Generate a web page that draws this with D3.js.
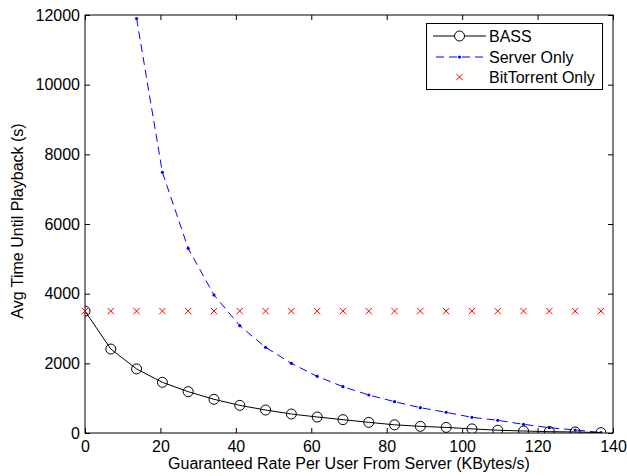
<!DOCTYPE html>
<html lang="en">
<meta charset="utf-8">
<head>
    <script src="https://d3js.org/d3.v7.min.js"></script>
    <style>
        body { margin: 0; background: #fff; }
        text { font-family: "Liberation Sans", Arial, sans-serif; }
    </style>
</head>
<body>
</body>

<script>
var width = 627, height = 476;

// rate per user (KBytes/s)
var rates = [0, 6.84, 13.68, 20.52, 27.36, 34.2, 41.04, 47.88, 54.72, 61.56, 68.4,
             75.24, 82.08, 88.92, 95.76, 102.6, 109.44, 116.28, 123.12, 129.96, 136.8];
var bass = [3500, 2410, 1840, 1455, 1187, 967, 794, 660, 545, 459, 383,
            306, 235, 191, 160, 118, 80, 57, 38, 30, 10];
var serverRates = rates.slice(2);
var serverOnly = [11900, 7485, 5300, 3962, 3080, 2460, 2000, 1627, 1330,
                  1091, 900, 727, 593, 450, 364, 249, 153, 86, 15];
var bittorrent = [3500, 3500, 3500, 3500, 3500, 3500, 3500, 3500, 3500, 3500, 3500,
                  3500, 3500, 3500, 3500, 3500, 3500, 3500, 3500, 3500, 3500];
var xTicks = [0, 20, 40, 60, 80, 100, 120, 140];
var yTicks = [0, 2000, 4000, 6000, 8000, 10000, 12000];

var m = {left: 85, top: 15, right: 14, bottom: 43};
var x = d3.scaleLinear().domain([0, 140]).range([m.left, width - m.right]);
var y = d3.scaleLinear().domain([0, 12000]).range([height - m.bottom, m.top]);

var svg = d3.select('body').append('svg').attr('width', width).attr('height', height);

svg.append('defs').append('clipPath').attr('id', 'clip')
    .append('rect').attr('x', m.left).attr('y', m.top)
    .attr('width', x(140) - m.left).attr('height', y(0) - m.top);

// axes with inward ticks on all four sides
function styleAxis(g) {
    g.select('.domain').remove();
    g.selectAll('line').attr('stroke', '#000');
    g.selectAll('text').attr('font-size', 16).attr('fill', '#000');
}
svg.append('g').attr('transform', 'translate(0,' + y(0) + ')')
    .call(d3.axisBottom(x).tickValues(xTicks).tickSizeInner(-5).tickPadding(8).tickFormat(d3.format('d')))
    .call(styleAxis);
svg.append('g').attr('transform', 'translate(0,' + y(12000) + ')')
    .call(d3.axisTop(x).tickValues(xTicks).tickSizeInner(-5).tickFormat(''))
    .call(styleAxis);
svg.append('g').attr('transform', 'translate(' + x(0) + ',0)')
    .call(d3.axisLeft(y).tickValues(yTicks).tickSizeInner(-5).tickPadding(5).tickFormat(d3.format('d')))
    .call(styleAxis);
svg.append('g').attr('transform', 'translate(' + x(140) + ',0)')
    .call(d3.axisRight(y).tickValues(yTicks).tickSizeInner(-5).tickFormat(''))
    .call(styleAxis);

svg.append('rect').attr('x', x(0)).attr('y', y(12000))
    .attr('width', x(140) - x(0)).attr('height', y(0) - y(12000))
    .attr('fill', 'none').attr('stroke', '#000').attr('stroke-width', 1);

svg.append('text').attr('x', (x(0) + x(140)) / 2).attr('y', 469)
    .attr('text-anchor', 'middle').attr('font-size', 16)
    .text('Guaranteed Rate Per User From Server (KBytes/s)');
svg.append('text').attr('transform', 'translate(23,' + ((y(0) + y(12000)) / 2 - 3) + ') rotate(-90)')
    .attr('text-anchor', 'middle').attr('font-size', 16)
    .text('Avg Time Until Playback (s)');

var plot = svg.append('g').attr('clip-path', 'url(#clip)');
var line = d3.line().x(function(d) { return x(d[0]); }).y(function(d) { return y(d[1]); });

var serverPts = d3.zip(serverRates, serverOnly);
plot.append('path').datum(serverPts).attr('d', line)
    .attr('fill', 'none').attr('stroke', '#0000ff').attr('stroke-width', 1)
    .attr('stroke-dasharray', '8,5');
plot.selectAll('.sdot').data(serverPts).join('circle')
    .attr('cx', function(d) { return x(d[0]); }).attr('cy', function(d) { return y(d[1]); })
    .attr('r', 1.6).attr('fill', '#0000ff');

var bassPts = d3.zip(rates, bass);
plot.append('path').datum(bassPts).attr('d', line)
    .attr('fill', 'none').attr('stroke', '#000').attr('stroke-width', 1);
plot.selectAll('.bdot').data(bassPts).join('circle')
    .attr('cx', function(d) { return x(d[0]); }).attr('cy', function(d) { return y(d[1]); })
    .attr('r', 5).attr('fill', 'none').attr('stroke', '#000').attr('stroke-width', 1);

function cross(g, cx, cy, s) {
    g.append('path').attr('d', 'M' + (cx - s) + ',' + (cy - s) + 'L' + (cx + s) + ',' + (cy + s) +
        'M' + (cx - s) + ',' + (cy + s) + 'L' + (cx + s) + ',' + (cy - s))
        .attr('stroke', '#ff0000').attr('stroke-width', 1).attr('fill', 'none');
}
d3.zip(rates, bittorrent).forEach(function(d) { cross(svg, x(d[0]), y(d[1]), 3.2); });

// legend
var lg = svg.append('g');
lg.append('rect').attr('x', 426.5).attr('y', 23.5).attr('width', 176).attr('height', 66)
    .attr('fill', '#fff').attr('stroke', '#000').attr('stroke-width', 1);
var names = ['BASS', 'Server Only', 'BitTorrent Only'];
var rows = [36, 57, 77];
lg.append('line').attr('x1', 433).attr('x2', 486).attr('y1', rows[0]).attr('y2', rows[0]).attr('stroke', '#000');
lg.append('circle').attr('cx', 459.5).attr('cy', rows[0]).attr('r', 5).attr('fill', '#fff').attr('stroke', '#000');
lg.append('line').attr('x1', 433).attr('x2', 486).attr('y1', rows[1]).attr('y2', rows[1])
    .attr('stroke', '#0000ff').attr('stroke-dasharray', '8,5').attr('stroke-dashoffset', -3);
lg.append('circle').attr('cx', 459.5).attr('cy', rows[1]).attr('r', 1.6).attr('fill', '#0000ff');
cross(lg, 459.5, rows[2], 3.2);
lg.selectAll('.lt').data(names).join('text')
    .attr('x', 489).attr('y', function(d, i) { return rows[i] + 6; })
    .attr('font-size', 16).text(function(d) { return d; });
</script>
</html>
